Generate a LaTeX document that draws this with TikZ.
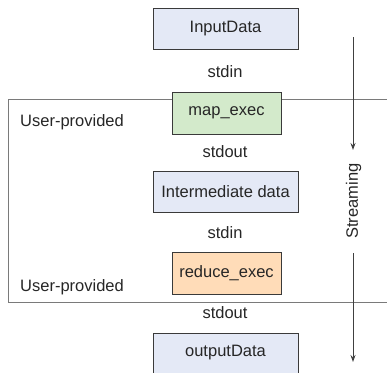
\documentclass[tikz,border=0pt]{standalone}
\usepackage{fontspec}
\setmainfont{Liberation Sans}
\usetikzlibrary{arrows.meta}
\definecolor{datafill}{HTML}{E4E9F6}
\definecolor{mapfill}{HTML}{D3EACB}
\definecolor{redfill}{HTML}{FFDCB8}
\definecolor{boxline}{HTML}{3A3A3A}
\definecolor{frameline}{HTML}{7A7A7A}
\tikzset{
  lbl/.style={font=\fontsize{16.5}{19}\selectfont, text=black!85, inner sep=0pt},
  databox/.style={lbl, draw=boxline, line width=0.9pt, fill=datafill, minimum width=145pt, minimum height=41pt},
  execbox/.style={lbl, draw=boxline, line width=0.9pt, minimum width=109pt, minimum height=42pt},
  frame/.style={draw=frameline, line width=1pt},
  flow/.style={draw=black!75, line width=1pt, -{Stealth[length=7pt,width=5pt]}}
}
\begin{document}
\begin{tikzpicture}[x=1pt,y=-1pt]
\useasboundingbox (0,0) rectangle (387,372);
\clip (0,0) rectangle (387,372);
% user-provided region
\coordinate (ftr) at (387,99);
\coordinate (ftl) at (8,99);
\coordinate (fbl) at (8,302);
\coordinate (fbr) at (387,302);
\draw[frame] (ftr) -- (ftl) -- (fbl) -- (fbr);
% data and executables
\node[databox] (in) at (225.5,28.5) {InputData};
\node[lbl] (stdin1) at (225,72) {stdin};
\node[execbox, fill=mapfill] (map) at (226.5,113) {map\_exec};
\node[lbl] (stdout1) at (225,152) {stdout};
\node[databox] (mid) at (225.5,192) {Intermediate data};
\node[lbl] (stdin2) at (225,233) {stdin};
\node[execbox, fill=redfill] (red) at (226.5,273) {reduce\_exec};
\node[lbl] (stdout2) at (225,313) {stdout};
\node[databox, minimum height=50pt] (out) at (225.5,358) {};
\node[lbl] at (225.5,353) {outputData};
\node[lbl, anchor=west] (up1) at (20,122) {User-provided};
\node[lbl, anchor=west] (up2) at (20,287) {User-provided};
% streaming direction
\node[lbl, rotate=90] (stream) at (353.5,201) {Streaming};
\coordinate (s0) at (353,37);
\coordinate (s1) at (353,150);
\coordinate (s2) at (353,253);
\coordinate (s3) at (353,362);
\draw[flow] (s0) -- (s1);
\draw[flow] (s2) -- (s3);
\end{tikzpicture}
\end{document}
